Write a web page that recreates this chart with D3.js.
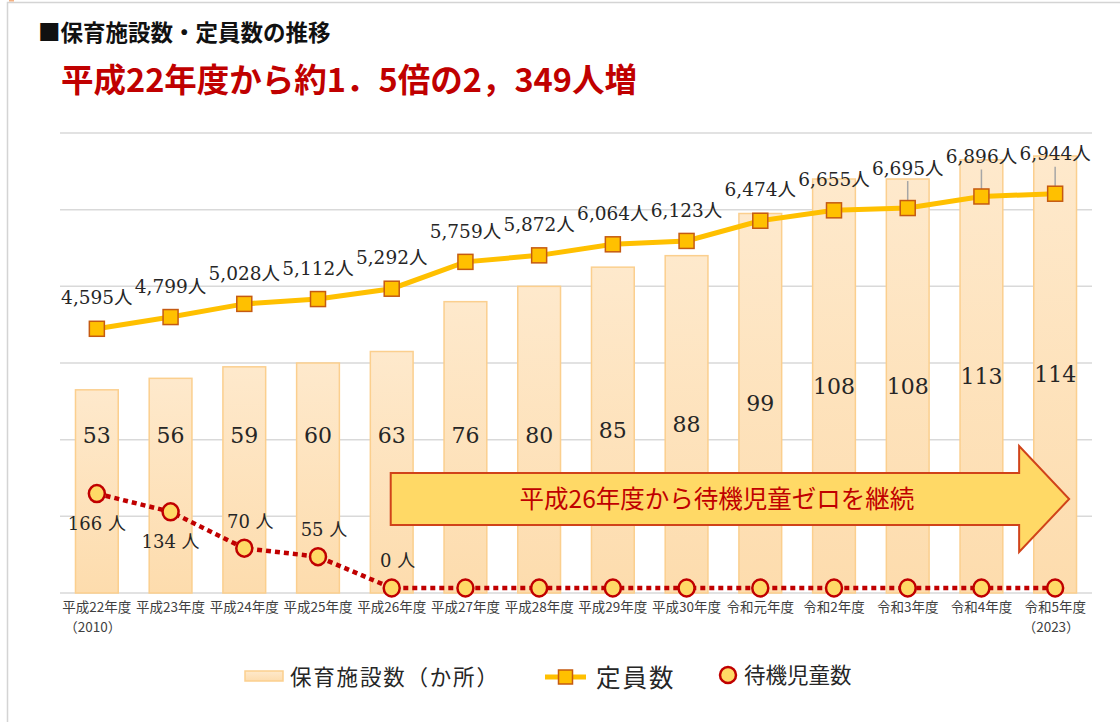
<!DOCTYPE html>
<html>
<head>
<meta charset="utf-8">
<script src="https://cdn.jsdelivr.net/npm/d3@7"></script>
<style>
  body { margin: 0; background: #fff; }
  svg { display: block; }
  .sans { font-family: "Noto Sans CJK JP", "Noto Sans", sans-serif; }
  .serif { font-family: "DejaVu Serif", "Noto Sans CJK JP", serif; }
</style>
</head>
<body>
<div id="chart"></div>
<script>
// 年度ラベル
var years = ["平成22年度", "平成23年度", "平成24年度", "平成25年度", "平成26年度",
             "平成27年度", "平成28年度", "平成29年度", "平成30年度", "令和元年度",
             "令和2年度", "令和3年度", "令和4年度", "令和5年度"];
var yearNotes = ["（2010）", "", "", "", "", "", "", "", "", "", "", "", "", "（2023）"];

// 保育施設数（か所）
var facilities = [53, 56, 59, 60, 63, 76, 80, 85, 88, 99, 108, 108, 113, 114];
// 定員数（人）
var capacity = [4595, 4799, 5028, 5112, 5292, 5759, 5872, 6064, 6123, 6474, 6655, 6695, 6896, 6944];
// 待機児童数（人）
var waiting = [166, 134, 70, 55, 0, 0, 0, 0, 0, 0, 0, 0, 0, 0];

var title = "■保育施設数・定員数の推移";
var headline = "平成22年度から約1．5倍の2，349人増";
var arrowText = "平成26年度から待機児童ゼロを継続";

var width = 1120, height = 722;
var plot = { left: 60, right: 1092, top: 133, bottom: 593 };

var svg = d3.select("#chart")
    .append("svg")
    .attr("width", width)
    .attr("height", height);

// frame
svg.append("path")
    .attr("d", "M7.5," + height + "V2.5H" + width)
    .attr("fill", "none")
    .attr("stroke", "#d4d4d4")
    .attr("stroke-width", 1.5);
svg.append("rect")
    .attr("x", 9).attr("y", 0).attr("width", 5).attr("height", 1.5)
    .attr("fill", "#f4b183");

svg.append("text")
    .attr("class", "sans")
    .attr("x", 38).attr("y", 41)
    .attr("font-size", 22.5).attr("font-weight", "bold")
    .attr("fill", "#111")
    .text(title);

svg.append("text")
    .attr("class", "sans")
    .attr("x", 61).attr("y", 92)
    .attr("font-size", 32.5).attr("font-weight", "bold")
    .attr("fill", "#c00000")
    .text(headline);

var x = d3.scaleBand()
    .domain(years)
    .range([plot.left, plot.right])
    .paddingInner(0.42)
    .paddingOuter(0.21);

var yBar = d3.scaleLinear().domain([0, 120]).range([plot.bottom, plot.top]);
var yCap = d3.scaleLinear().domain([0, 8000]).range([plot.bottom, plot.top]);
var yWait = d3.scaleLinear().domain([0, 800]).range([plot.bottom - 5, plot.top]);

function cx(i) { return x(years[i]) + x.bandwidth() / 2; }

// gridlines
svg.append("g")
    .selectAll("line")
    .data(yBar.ticks(6))
    .enter().append("line")
    .attr("x1", plot.left).attr("x2", plot.right)
    .attr("y1", function(d) { return yBar(d); })
    .attr("y2", function(d) { return yBar(d); })
    .attr("stroke", "#d9d9d9")
    .attr("stroke-width", 1.5);

// bar gradient
var defs = svg.append("defs");
var grad = defs.append("linearGradient")
    .attr("id", "barGrad")
    .attr("x1", 0).attr("y1", 0).attr("x2", 0).attr("y2", 1);
grad.append("stop").attr("offset", "0%").attr("stop-color", "#fee9cc");
grad.append("stop").attr("offset", "100%").attr("stop-color", "#fddcad");

svg.append("g")
    .selectAll("rect")
    .data(facilities)
    .enter().append("rect")
    .attr("x", function(d, i) { return x(years[i]); })
    .attr("y", function(d) { return yBar(d); })
    .attr("width", x.bandwidth())
    .attr("height", function(d) { return yBar(0) - yBar(d); })
    .attr("fill", "url(#barGrad)")
    .attr("stroke", "#fbcf8e")
    .attr("stroke-width", 1.5);

var barLabelMaxY = 435;
svg.append("g")
    .selectAll("text")
    .data(facilities)
    .enter().append("text")
    .attr("class", "serif")
    .attr("x", function(d, i) { return cx(i); })
    .attr("y", function(d) { return Math.min((yBar(d) + yBar(0)) / 2, barLabelMaxY); })
    .attr("dy", "0.36em")
    .attr("text-anchor", "middle")
    .attr("font-size", 22)
    .attr("fill", "#262626")
    .text(function(d) { return d; });

// x axis labels
var xl = svg.append("g").attr("class", "sans").attr("fill", "#404040").attr("font-size", 13.5);
xl.selectAll("text.yr")
    .data(years)
    .enter().append("text")
    .attr("class", "yr")
    .attr("x", function(d, i) { return cx(i); })
    .attr("y", 612)
    .attr("text-anchor", "middle")
    .text(function(d) { return d; });
xl.selectAll("text.note")
    .data(yearNotes)
    .enter().append("text")
    .attr("class", "note")
    .attr("x", function(d, i) { return cx(i) - 4; })
    .attr("y", 632)
    .attr("text-anchor", "middle")
    .text(function(d) { return d; });

// arrow annotation
var ax0 = cx(4) - 1, ax1 = cx(13) + 14, aMid = 499;
var headX = ax1 - 50;
var arrowPts = [[ax0, aMid - 26], [headX, aMid - 26], [headX, aMid - 53], [ax1, aMid],
                [headX, aMid + 53], [headX, aMid + 26], [ax0, aMid + 26]];
svg.append("polygon")
    .attr("points", arrowPts.map(function(p) { return p.join(","); }).join(" "))
    .attr("fill", "#ffd966")
    .attr("stroke", "#d0431a")
    .attr("stroke-width", 2);
svg.append("text")
    .attr("class", "sans")
    .attr("x", (ax0 + headX) / 2 + 12)
    .attr("y", aMid)
    .attr("dy", "0.35em")
    .attr("text-anchor", "middle")
    .attr("font-size", 24.5)
    .attr("fill", "#c00000")
    .text(arrowText);

// 定員数 line
var capLine = d3.line()
    .x(function(d, i) { return cx(i); })
    .y(function(d) { return yCap(d); });
svg.append("path")
    .datum(capacity)
    .attr("d", capLine)
    .attr("fill", "none")
    .attr("stroke", "#ffc000")
    .attr("stroke-width", 5);

// leader lines for the raised labels
var raised = function(i) { return i >= 11; };
svg.append("g")
    .selectAll("line")
    .data(capacity)
    .enter().filter(function(d, i) { return raised(i); })
    .append("line")
    .attr("x1", function(d) { return cx(capacity.indexOf(d)); })
    .attr("x2", function(d) { return cx(capacity.indexOf(d)); })
    .attr("y1", function(d) { return yCap(d) - 27; })
    .attr("y2", function(d) { return yCap(d); })
    .attr("stroke", "#a6a6a6")
    .attr("stroke-width", 1.5);

svg.append("g")
    .selectAll("rect")
    .data(capacity)
    .enter().append("rect")
    .attr("x", function(d, i) { return cx(i) - 7.5; })
    .attr("y", function(d) { return yCap(d) - 7.5; })
    .attr("width", 15).attr("height", 15)
    .attr("fill", "#ffc000")
    .attr("stroke", "#c55a11")
    .attr("stroke-width", 1.5);

var fmt = d3.format(",");
svg.append("g")
    .selectAll("text")
    .data(capacity)
    .enter().append("text")
    .attr("class", "serif")
    .attr("x", function(d, i) { return cx(i); })
    .attr("y", function(d, i) { return yCap(d) - (raised(i) ? 40 : 31); })
    .attr("dy", "0.36em")
    .attr("text-anchor", "middle")
    .attr("font-size", 18.5)
    .attr("fill", "#262626")
    .text(function(d) { return fmt(d) + "人"; });

// 待機児童数 dotted line
var waitLine = d3.line()
    .x(function(d, i) { return cx(i); })
    .y(function(d) { return yWait(d); });
svg.append("path")
    .datum(waiting)
    .attr("d", waitLine)
    .attr("fill", "none")
    .attr("stroke", "#c00000")
    .attr("stroke-width", 4.5)
    .attr("stroke-dasharray", "5,4");

svg.append("g")
    .selectAll("ellipse")
    .data(waiting)
    .enter().append("ellipse")
    .attr("cx", function(d, i) { return cx(i); })
    .attr("cy", function(d) { return yWait(d); })
    .attr("rx", 8).attr("ry", 8.5)
    .attr("fill", "#ffd966")
    .attr("stroke", "#c00000")
    .attr("stroke-width", 2.5);

svg.append("g")
    .selectAll("text")
    .data(waiting.slice(0, 5))
    .enter().append("text")
    .attr("class", "serif")
    .attr("x", function(d, i) { return cx(i) + (i < 2 ? 0 : 6); })
    .attr("y", function(d, i) { return yWait(d) + (i < 2 ? 30 : -27); })
    .attr("dy", "0.36em")
    .attr("text-anchor", "middle")
    .attr("font-size", 18)
    .attr("fill", "#262626")
    .text(function(d) { return d + " 人"; });

// legend
var lg = svg.append("g").attr("class", "sans").attr("font-size", 21.5).attr("fill", "#262626");
lg.append("rect")
    .attr("x", 245).attr("y", 671).attr("width", 38).attr("height", 10)
    .attr("fill", "url(#barGrad)").attr("stroke", "#fbcf8e").attr("stroke-width", 1.5);
lg.append("text").attr("x", 290).attr("y", 677).attr("dy", "0.36em")
    .attr("letter-spacing", 1.8).text("保育施設数（か所）");

lg.append("line")
    .attr("x1", 545).attr("x2", 586).attr("y1", 677).attr("y2", 677)
    .attr("stroke", "#ffc000").attr("stroke-width", 5);
lg.append("rect")
    .attr("x", 558.5).attr("y", 670).attr("width", 14).attr("height", 14)
    .attr("fill", "#ffc000").attr("stroke", "#c55a11").attr("stroke-width", 1.5);
lg.append("text").attr("x", 596).attr("y", 678).attr("dy", "0.36em")
    .attr("font-size", 24.5).attr("letter-spacing", 2).text("定員数");

lg.append("circle")
    .attr("cx", 728).attr("cy", 675).attr("r", 8)
    .attr("fill", "#ffd966").attr("stroke", "#c00000").attr("stroke-width", 2.5);
lg.append("text").attr("x", 744).attr("y", 675).attr("dy", "0.36em").text("待機児童数");
</script>
</body>
</html>
